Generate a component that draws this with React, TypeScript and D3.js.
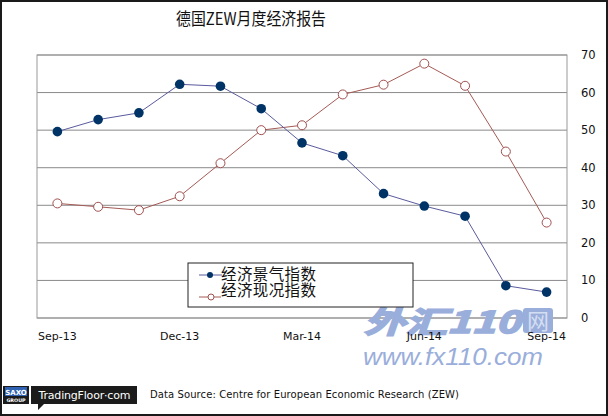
import * as d3 from 'd3';

const months = ['Sep-13', 'Oct-13', 'Nov-13', 'Dec-13', 'Jan-14', 'Feb-14', 'Mar-14', 'Apr-14', 'May-14', 'Jun-14', 'Jul-14', 'Aug-14', 'Sep-14'];
const sentiment = [49.6, 52.8, 54.6, 62.2, 61.7, 55.7, 46.6, 43.2, 33.1, 29.8, 27.1, 8.6, 6.9];
const conditions = [30.5, 29.6, 28.7, 32.4, 41.2, 50.0, 51.3, 59.5, 62.1, 67.7, 61.8, 44.3, 25.4];
const tickLabels = ['Sep-13', 'Dec-13', 'Mar-14', 'Jun-14', 'Sep-14'];
const yTicks = [0, 10, 20, 30, 40, 50, 60, 70];

const title = '德国ZEW月度经济报告';
const seriesNames = ['经济景气指数', '经济现况指数'];

const W = 608;
const H = 416;
const margin = { top: 55, right: 41, bottom: 98, left: 37 };

export default function App() {
  const x = d3
    .scaleBand()
    .domain(months)
    .range([margin.left, W - margin.right]);
  const y = d3
    .scaleLinear()
    .domain([0, 70])
    .range([H - margin.bottom, margin.top]);
  const cx = (m: string) => (x(m) || 0) + x.bandwidth() / 2;

  const line = d3
    .line<number>()
    .x((_, i) => cx(months[i]))
    .y((d) => y(d));

  const sans = '"DejaVu Sans", Verdana, sans-serif';
  const cjk = '"Noto Sans CJK SC", sans-serif';
  const wm = '#9aaedb';

  return (
    <div style={{ position: 'absolute', left: 0, top: 0 }}>
      <svg width={W} height={H} style={{ display: 'block', background: '#fff' }}>
        <rect x={1} y={1} width={W - 2} height={H - 2} fill="#fff" stroke="#1a1a1a" strokeWidth={2} />

        <text x={176} y={25} fontFamily={cjk} fontSize={17} fill="#111" textLength={150} lengthAdjust="spacingAndGlyphs">
          {title}
        </text>

        {/* grid */}
        {yTicks.map((t) => (
          <line key={t} x1={margin.left} x2={W - margin.right} y1={y(t)} y2={y(t)} stroke="#8a8a8a" strokeWidth={1} />
        ))}
        <rect
          x={margin.left}
          y={margin.top}
          width={W - margin.left - margin.right}
          height={H - margin.top - margin.bottom}
          fill="none"
          stroke="#999"
          strokeWidth={1}
        />

        {/* watermark */}
        <g>
          <text x={364} y={333} fontFamily={cjk} fontSize={30} fontWeight="bold" fontStyle="italic" fill={wm} stroke={wm} strokeWidth={1.6} textLength={156} lengthAdjust="spacingAndGlyphs">
            外汇110
          </text>
          <rect x={523} y={308} width={30} height={25} rx={3} fill={wm} />
          <text x={538} y={329} textAnchor="middle" fontFamily={cjk} fontSize={22} fill="#d4def2">
            网
          </text>
          <text x={363} y={365} fontFamily='"Liberation Sans", Arial, sans-serif' fontSize={24} fontStyle="italic" fill={wm} textLength={180} lengthAdjust="spacingAndGlyphs">
            www.fx110.com
          </text>
        </g>

        {yTicks.map((t) => (
          <text key={t} x={581} y={y(t) + 4} fontFamily={sans} fontSize={11.5} fill="#111">
            {t}
          </text>
        ))}
        {tickLabels.map((m) => (
          <text key={m} x={cx(m)} y={340} textAnchor="middle" fontFamily={sans} fontSize={11} fill="#111">
            {m}
          </text>
        ))}

        <path d={line(conditions) || ''} fill="none" stroke="#a55a55" strokeWidth={1} />
        <path d={line(sentiment) || ''} fill="none" stroke="#5a5a9e" strokeWidth={1} />

        {conditions.map((v, i) => (
          <circle key={'c' + i} cx={cx(months[i])} cy={y(v)} r={4.5} fill="#fff" stroke="#a05050" strokeWidth={1} />
        ))}
        {sentiment.map((v, i) => (
          <circle key={'s' + i} cx={cx(months[i])} cy={y(v)} r={4.8} fill="#003366" />
        ))}

        {/* legend */}
        <rect x={188} y={263} width={225} height={44} fill="#fff" stroke="#222" strokeWidth={1} />
        <line x1={199} x2={222} y1={275} y2={275} stroke="#5a5a9e" strokeWidth={1} />
        <circle cx={210} cy={275} r={3} fill="#003366" />
        <text x={221} y={280} fontFamily={cjk} fontSize={15.5} fill="#111" textLength={95}>
          {seriesNames[0]}
        </text>
        <line x1={199} x2={221} y1={297} y2={297} stroke="#a55a55" strokeWidth={1} />
        <circle cx={211} cy={297} r={3} fill="#fff" stroke="#a05050" strokeWidth={1} />
        <text x={221} y={296} fontFamily={cjk} fontSize={15.5} fill="#111" textLength={95}>
          {seriesNames[1]}
        </text>

        {/* footer logo */}
        <rect x={3} y={386} width={26} height={18} fill="#1b1b1b" />
        <rect x={5} y={387} width={22} height={9} fill="#2f62b3" />
        <text x={16} y={394.5} textAnchor="middle" fontFamily={sans} fontSize={7} fontWeight="bold" fill="#fff">
          SAXO
        </text>
        <text x={16} y={402} textAnchor="middle" fontFamily={sans} fontSize={4.8} fontWeight="bold" fill="#fff">
          GROUP
        </text>
        <path d="M31,386 H137 V404 H44 L38,410 L38,404 H31 Z" fill="#1b1b1b" />
        <text x={84.5} y={399} textAnchor="middle" fontFamily={sans} fontSize={11} fill="#fff" textLength={92}>
          TradingFloor·com
        </text>

        <text x={150} y={398} fontFamily={sans} fontSize={10} fill="#111" textLength={309}>
          Data Source: Centre for European Economic Research (ZEW)
        </text>
      </svg>
    </div>
  );
}
